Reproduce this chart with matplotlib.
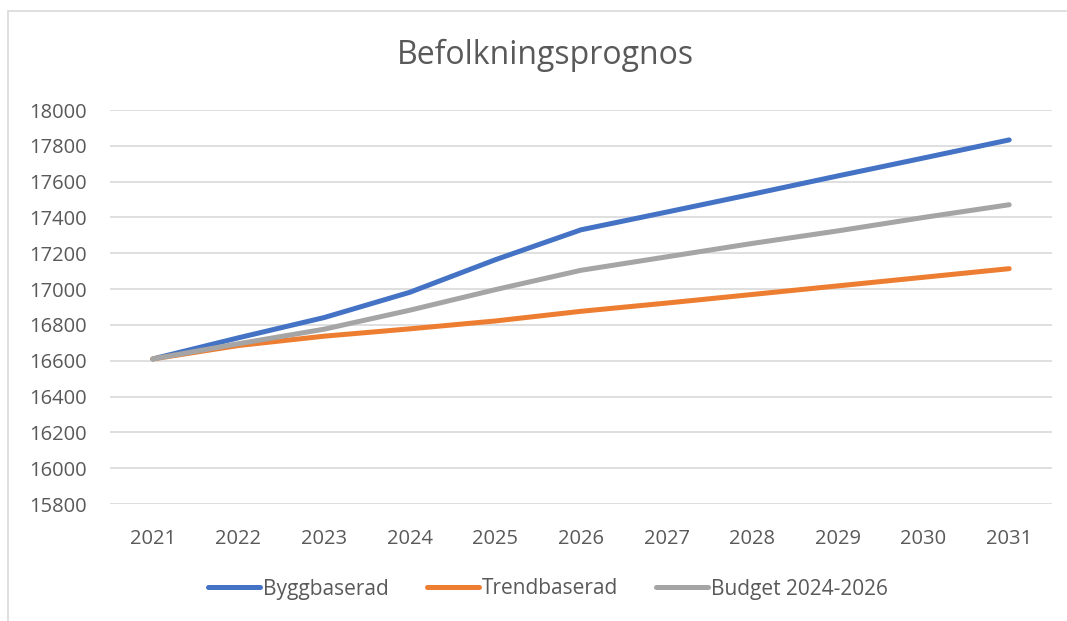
import numpy as np
import matplotlib.pyplot as plt
from matplotlib.patches import Rectangle

years = ['2021', '2022', '2023', '2024', '2025', '2026', '2027', '2028', '2029', '2030', '2031']
byggbaserad = [16610, 16728, 16841, 16982, 17164, 17331, 17430, 17530, 17632, 17732, 17833]
trendbaserad = [16610, 16685, 16737, 16778, 16822, 16876, 16922, 16970, 17018, 17066, 17114]
budget = [16610, 16695, 16776, 16882, 16997, 17105, 17180, 17255, 17325, 17400, 17471]

plt.rcParams['font.family'] = ['Open Sans', 'DejaVu Sans']
txt = '#595959'

fig = plt.figure(figsize=(10.67, 6.21), dpi=100)
ax = fig.add_axes([110/1067, 1-504/621, (1052-110)/1067, (504-110)/621])

# chart area border
fig.patches.append(Rectangle((8/1067, -0.1), 1.2, 1-11/621+0.1, transform=fig.transFigure,
                             fill=False, edgecolor='#D9D9D9', linewidth=1.2))

x = np.arange(len(years))
ax.plot(x, byggbaserad, color='#4472C4', lw=3.6, solid_capstyle='round', label='Byggbaserad')
ax.plot(x, trendbaserad, color='#ED7D31', lw=3.6, solid_capstyle='round', label='Trendbaserad')
ax.plot(x, budget, color='#A5A5A5', lw=3.6, solid_capstyle='round', label='Budget 2024-2026')

ax.set_xlim(-0.5, len(years)-0.5)
ax.set_ylim(15800, 18000)
ax.set_yticks(np.arange(15800, 18001, 200))
ax.set_xticks(x)
ax.set_xticklabels(years)
ax.grid(axis='y', color='#D9D9D9', lw=1.2)
ax.set_axisbelow(True)
for s in ax.spines.values():
    s.set_visible(False)
ax.tick_params(length=0, labelsize=14.5, labelcolor=txt)
ax.tick_params(axis='y', pad=17)
ax.tick_params(axis='x', pad=18)

fig.text(545/1067, 1-55/621, 'Befolkningsprognos', ha='center', va='center', fontsize=23, color=txt)

fig.legend(loc='center', bbox_to_anchor=(548/1067, 1-589/621), ncol=3, frameon=False,
           fontsize=15, labelcolor=txt, handlelength=2.5, handletextpad=0.15, columnspacing=1.8)

fig.savefig('out.png', dpi=100)
